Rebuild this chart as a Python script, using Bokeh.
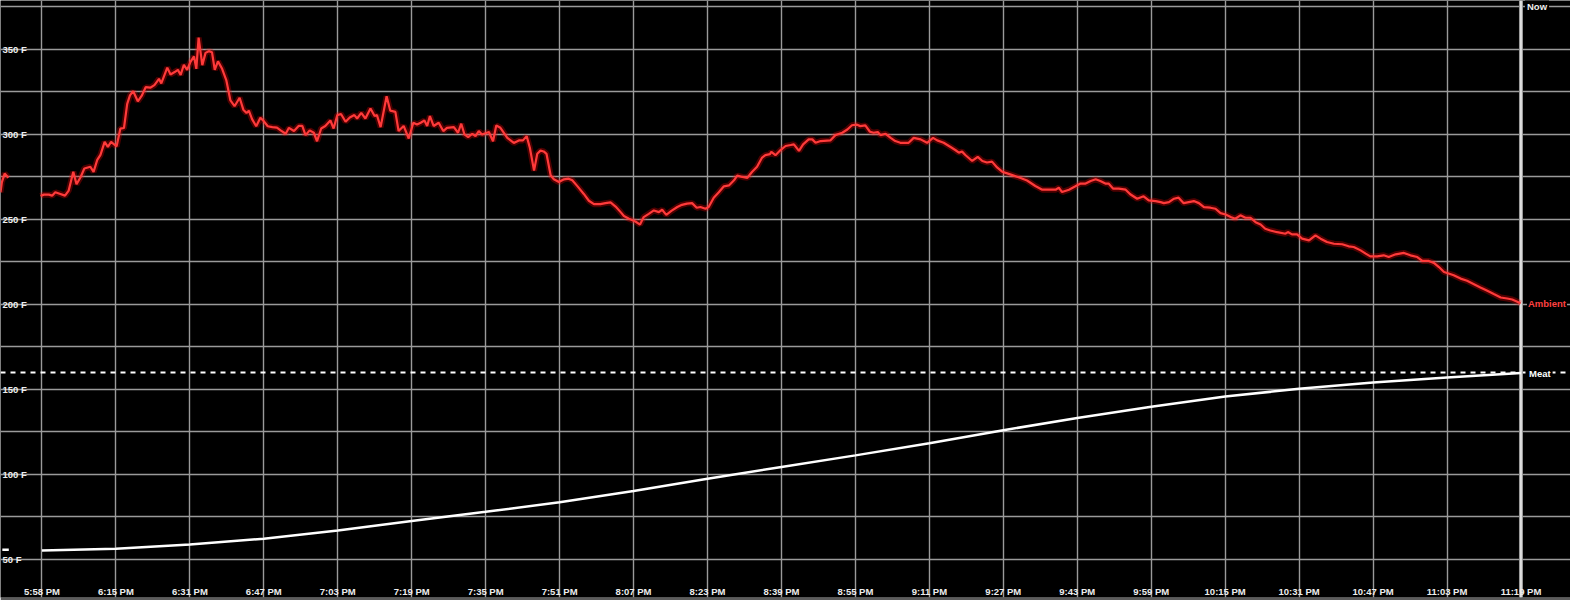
import math
from bokeh.plotting import figure
from bokeh.models import Span
from bokeh.models import FixedTicker
from bokeh.core.properties import value
from bokeh.embed import file_html
from bokeh.resources import INLINE

nan = float("nan")

# time axis: minutes after 5:58:57 PM
tick_minutes = [0, 16.05, 32.1, 48.15, 64.2, 80.25, 96.3, 112.35, 128.4, 144.45, 160.5,
                176.55, 192.6, 208.65, 224.7, 240.75, 256.8, 272.85, 288.9, 304.95, 321.0]
tick_labels = ["5:58 PM", "6:15 PM", "6:31 PM", "6:47 PM", "7:03 PM", "7:19 PM", "7:35 PM",
               "7:51 PM", "8:07 PM", "8:23 PM", "8:39 PM", "8:55 PM", "9:11 PM", "9:27 PM",
               "9:43 PM", "9:59 PM", "10:15 PM", "10:31 PM", "10:47 PM", "11:03 PM", "11:19 PM"]
temp_ticks = [50, 100, 150, 200, 250, 300, 350]
temp_labels = ["50 F", "100 F", "150 F", "200 F", "250 F", "300 F", "350 F"]
grid_temps = [50, 75, 100, 125, 150, 175, 200, 225, 250, 275, 300, 325, 350, 375]

now_minutes = 321.0
target_temp = 160

# ambient (pit) temperature
amb_minutes = [
    -9.0, -8.7, -8.1, -7.3, -5.0,
    -0.3, 0.4, 1.5, 2.2, 2.9, 4.0, 5.0, 5.8, 6.8, 7.5, 8.4, 9.2, 10.5, 11.2, 12.0, 12.7,
    13.6, 14.3, 15.0, 16.2, 17.0, 17.8, 18.5, 19.1, 19.8, 20.8, 21.7, 22.5, 23.5, 24.4,
    25.4, 25.9, 27.2, 27.9, 28.8, 29.5, 30.1, 30.8, 31.5, 32.2, 33.0, 33.5, 34.0, 34.8,
    35.5, 36.2, 36.9, 37.5, 38.2, 39.1, 40.0, 40.9, 41.8, 42.9, 43.7, 44.4, 44.9, 45.6,
    46.5, 47.4, 48.1, 49.0, 50.0, 51.0,
    51.8, 52.9, 53.6, 54.7, 55.7, 56.5, 57.2, 58.1, 59.0, 59.7, 60.6, 61.5, 62.6, 63.3,
    64.1, 64.9, 65.9, 66.8, 67.8, 68.4, 69.3, 70.2, 71.3, 72.2, 72.7, 73.5, 74.8, 75.6,
    76.7, 77.4, 78.5, 79.6, 80.6, 81.4, 82.2, 83.0, 83.6, 84.2, 85.0, 86.1, 87.1, 87.9,
    89.4, 90.3, 91.0, 91.7, 92.5, 93.4, 94.1, 94.8, 95.5, 97.0, 97.9, 98.6, 99.5, 101.0,
    102.4, 103.5, 104.4, 105.2, 105.9, 106.8,
    107.5, 108.2, 108.9, 109.5, 110.4, 111.1, 112.2, 113.3, 114.3, 115.1, 116.2, 117.6,
    118.7, 119.8, 121.2, 122.3, 123.4, 124.5, 125.6, 126.3, 127.4, 128.8, 129.8, 130.6,
    131.7, 132.8, 133.9, 134.6, 135.5, 136.6, 137.9, 138.9, 140.0, 141.1, 142.1, 142.9,
    144.0, 144.7, 145.8, 146.9, 148.0, 149.1, 150.2, 150.9, 152.0, 153.1, 154.1, 155.2,
    156.3, 157.0, 158.0, 158.3, 159.2, 160.3,
    161.4, 162.5, 163.2, 164.3, 165.2, 166.4, 167.2, 167.9, 169.0, 171.1, 172.2, 173.7,
    174.8, 175.8, 176.8, 177.6, 178.7, 179.7, 180.5, 181.4, 182.0, 183.1, 184.2, 185.2,
    186.3, 188.1, 189.2, 190.7, 192.1, 193.4, 194.3, 195.7, 197.2, 198.3, 199.0, 199.7,
    200.4, 201.9, 203.1, 204.1, 205.1, 206.2, 207.3, 208.4, 209.5, 210.9, 212.4, 213.8,
    215.6, 217.1, 218.5, 220.0, 220.7, 221.4, 222.9, 224.3, 225.4, 226.5, 227.6, 228.7,
    229.7, 230.8, 231.5, 232.5, 233.7, 235.2, 236.2, 237.7, 239.1, 240.2, 241.7, 242.8,
    243.5, 244.6, 245.7, 246.7, 247.8, 248.9, 250.0, 251.1, 252.2, 253.6, 254.7, 255.8,
    256.9, 258.0, 259.0, 260.1, 261.2, 262.3, 263.4, 264.5, 265.5, 266.6, 268.1,
    269.9, 270.4, 271.3, 272.4, 273.5, 275.0, 276.4, 277.5, 278.9, 280.4, 282.2, 283.6,
    284.7, 286.2, 287.3, 288.3, 289.8, 291.2, 292.3, 293.8, 295.6, 297.0, 298.5, 299.6,
    301.0, 302.1, 303.2, 304.3, 305.3, 306.4, 307.9, 309.3, 310.8, 312.2, 313.7, 315.1,
    316.6, 318.0, 319.1, 320.2, 320.9,
]
amb_temp = [
    266.0, 272.0, 277.0, 274.5, nan,
    263.8, 264.6, 264.6, 264.0, 266.0, 265.0, 264.0, 267.0, 278.0, 270.7, 275.0, 280.0,
    281.0, 278.0, 285.0, 288.0, 295.6, 292.7, 295.6, 293.0, 303.4, 303.8, 318.0, 323.0,
    325.4, 319.5, 323.0, 327.8, 327.5, 329.0, 332.7, 330.0, 339.3, 335.3, 336.7, 338.0,
    335.0, 341.0, 338.0, 342.5, 345.9, 338.6, 357.0, 340.8, 348.0, 349.0, 348.4, 338.0,
    343.0, 338.6, 332.0, 320.0, 316.6, 321.6, 314.6, 312.6, 314.0, 309.0, 304.8, 309.8,
    308.0, 304.8, 304.3, 304.0,
    302.4, 300.4, 303.9, 302.0, 305.0, 305.0, 299.6, 302.4, 301.0, 296.0, 303.5, 305.0,
    308.2, 303.5, 311.4, 312.0, 307.5, 310.0, 311.4, 309.4, 312.7, 309.4, 315.3, 310.8,
    311.4, 304.3, 322.5, 314.0, 313.3, 302.0, 305.0, 297.6, 306.9, 305.9, 306.9, 308.2,
    305.0, 310.8, 305.0, 306.9, 302.0, 303.9, 304.3, 301.0, 306.3, 300.0, 298.4, 300.4,
    299.0, 302.0, 300.0, 301.4, 296.0, 305.3, 303.9, 298.0, 295.0, 296.5, 296.5, 299.0,
    292.0, 278.7,
    288.6, 290.5, 290.0, 288.6, 276.0, 273.6, 272.0, 273.6, 274.0, 273.0, 269.6, 265.0,
    261.0, 259.0, 259.0, 259.6, 260.0, 257.6, 254.3, 252.0, 250.4, 248.8, 247.0, 251.4,
    253.3, 255.3, 254.3, 255.7, 252.7, 255.0, 257.3, 258.6, 259.3, 259.6, 256.9, 257.3,
    256.3, 257.3, 262.8, 266.0, 269.5, 270.0, 273.0, 275.8, 275.0, 274.5, 277.9, 281.0,
    286.4, 287.8, 288.4, 289.8, 287.8, 290.8,
    293.2, 293.8, 294.2, 290.3, 294.2, 297.1, 297.1, 295.1, 296.1, 296.5, 299.6, 301.0,
    302.9, 305.4, 305.8, 304.9, 305.3, 301.6, 301.0, 301.4, 299.6, 300.4, 298.0, 296.1,
    295.1, 295.1, 298.0, 297.1, 295.1, 298.0, 296.5, 295.1, 292.6, 290.7, 289.3, 289.9,
    287.9, 284.4, 286.8, 284.4, 283.5, 284.0, 280.6, 278.1, 277.1, 275.8, 274.4, 272.9,
    269.7, 267.5, 267.5, 267.5, 268.7, 266.1, 267.5, 269.5, 271.1, 271.1, 272.6, 273.6,
    272.6, 271.1, 271.1, 268.1, 268.1, 267.5, 264.8, 262.2, 263.6, 261.2, 260.8, 260.2,
    259.6, 260.2, 262.2, 262.8, 259.6, 260.2, 260.8, 259.6, 257.3, 256.9, 256.3, 253.7,
    252.9, 251.4, 250.4, 252.4, 251.0, 251.0, 248.4, 247.0, 244.5, 243.5, 242.5,
    241.6, 242.6, 241.2, 241.2, 238.7, 237.7, 240.6, 238.7, 236.7, 235.7, 235.4, 234.2,
    233.8, 231.8, 229.9, 228.3, 228.3, 228.9, 227.9, 229.5, 230.3, 228.9, 227.9, 225.6,
    225.6, 224.4, 222.0, 219.1, 218.2, 217.2, 215.2, 213.9, 211.9, 210.0, 208.0, 206.1,
    204.1, 203.5, 202.9, 201.6, 200.6,
]

# meat probe temperature
meat_minutes = [-8.6, -7.2, -5.0, 0, 16.05, 32.1, 48.15, 64.2, 80.25, 96.3, 112.35, 128.4,
                144.45, 160.5, 176.55, 192.6, 208.65, 224.7, 240.75, 256.8, 272.85, 288.9,
                304.95, 321.0]
meat_temp = [55.7, 55.7, nan, 55.3, 56.3, 58.8, 62.2, 67.0, 72.6, 78.0, 83.6, 90.3, 97.4,
             104.4, 111.2, 118.4, 126.0, 133.2, 139.8, 145.8, 150.4, 154.1, 157.0, 159.6]

font = value("Liberation Sans")

p = figure(width=1570, height=600, x_range=(-9.0, 331.75), y_range=(27.6, 378.8),
           x_axis_location=None, y_axis_location=None,
           output_backend="svg", toolbar_location=None)
p.min_border = 0
p.min_border_bottom = 3
p.background_fill_color = "black"
p.border_fill_color = "#5c5c5c"
p.outline_line_color = None

p.xgrid.ticker = FixedTicker(ticks=tick_minutes)
p.ygrid.ticker = FixedTicker(ticks=grid_temps)
for g in (p.xgrid, p.ygrid):
    g.grid_line_color = "#9a9a9a"
    g.grid_line_width = 1.4

# target line and "now" marker, kept under the glyphs so labels can mask them
p.add_layout(Span(location=target_temp, dimension="width", line_color="white",
                  line_width=2, line_dash="5 5", level="underlay"))
p.add_layout(Span(location=now_minutes, dimension="height", line_color="#9a9a9a",
                  line_width=4, level="underlay"))
p.add_layout(Span(location=now_minutes, dimension="height", line_color="#f2f2f2",
                  line_width=1.5, level="underlay"))

# series
p.line(amb_minutes, amb_temp, line_color="#ff0000", line_width=6, line_alpha=0.3)
p.line(amb_minutes, amb_temp, line_color="#ff3a3a", line_width=2.2)
p.line(meat_minutes, meat_temp, line_color="white", line_width=2.5)

# tick labels drawn inside the frame
label_size = "9.5px"
p.text(x=tick_minutes, y=[31.2] * len(tick_minutes), text=tick_labels,
       text_font=font, text_font_style="bold", text_font_size=label_size, text_color="#eeeeee",
       text_align="center", text_baseline="middle")
p.text(x=[p.x_range.start] * len(temp_ticks), y=temp_ticks, text=temp_labels, x_offset=2,
       text_font=font, text_font_style="bold", text_font_size=label_size, text_color="#eeeeee",
       text_align="left", text_baseline="middle")

# end labels
p.text(x=[now_minutes], y=[375], text=["Now"], x_offset=4,
       text_font=font, text_font_style="bold", text_font_size=label_size, text_color="#eeeeee",
       text_align="left", text_baseline="middle", background_fill_color="black", padding=2)
p.text(x=[now_minutes], y=[amb_temp[-1]], text=["Ambient"], x_offset=6,
       text_font=font, text_font_style="bold", text_font_size=label_size, text_color="#ff4040",
       text_align="left", text_baseline="middle", background_fill_color="black", padding=1)
p.text(x=[now_minutes], y=[meat_temp[-1]], text=["Meat"], x_offset=6,
       text_font=font, text_font_style="bold", text_font_size=label_size, text_color="white",
       text_align="left", text_baseline="middle", background_fill_color="black", padding=2)

open("out.html", "w").write(file_html(p, INLINE))
